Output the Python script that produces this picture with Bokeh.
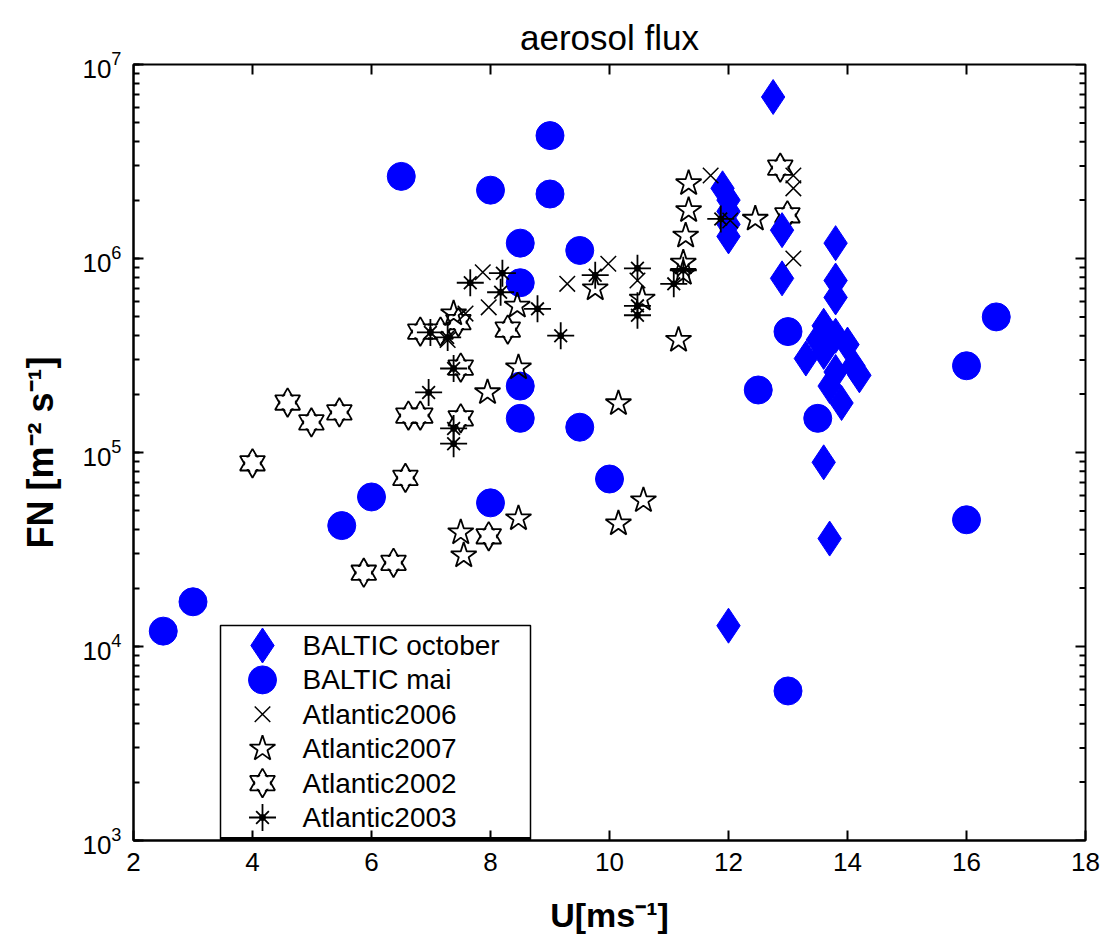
from bokeh.plotting import figure
from bokeh.models import Range1d, FixedTicker, LinearScale
from bokeh.embed import file_html
from bokeh.resources import INLINE
from bokeh.core.properties import value

# ---------------- data ----------------
baltic_oct_u = [12.75, 11.9, 12.0, 12.0, 12.0, 12.0, 12.9, 12.9, 13.8, 13.8, 13.8, 13.6, 13.5,
                13.3, 14.0, 14.1, 13.7, 13.9, 13.6, 13.7, 12.0, 13.6, 13.8, 13.8, 14.2]
baltic_oct_fn = [6.8e6, 2.3e6, 2.0e6, 1.75e6, 1.5e6, 1.3e6, 1.4e6, 7.9e5, 1.2e6, 7.7e5, 6.3e5, 4.5e5, 3.8e5,
                 3.05e5, 3.6e5, 2.8e5, 2.2e5, 1.8e5, 8.9e4, 3.6e4, 1.28e4, 3.3e5, 4.0e5, 2.6e5, 2.5e5]

baltic_mai_u = [2.5, 3.0, 6.5, 8.0, 9.0, 9.0, 8.5, 9.5, 8.5, 8.5, 8.5, 9.5, 10.0, 8.0, 6.0, 5.5,
                13.0, 12.5, 13.5, 16.5, 16.0, 16.0, 13.0]
baltic_mai_fn = [1.2e4, 1.7e4, 2.65e6, 2.25e6, 4.3e6, 2.15e6, 1.2e6, 1.1e6, 7.5e5, 2.2e5, 1.5e5, 1.35e5,
                 7.3e4, 5.5e4, 5.9e4, 4.2e4, 4.2e5, 2.1e5, 1.5e5, 5.0e5, 2.8e5, 4.5e4, 5.9e3]

atl2006_u = [7.87, 7.97, 7.58, 7.28, 9.29, 9.98, 10.47, 11.70, 13.09, 13.09, 13.09, 12.03]
atl2006_fn = [8.5e5, 5.6e5, 5.2e5, 3.8e5, 7.4e5, 9.4e5, 7.7e5, 2.68e6, 2.68e6, 2.3e6, 1.0e6, 1.57e6]

atl2007_u = [11.33, 11.33, 11.28, 12.45, 11.24, 11.24, 9.76, 10.55, 11.16, 10.15, 7.95, 8.47,
             8.47, 7.50, 7.55, 10.57, 10.15, 7.38, 8.45]
atl2007_fn = [2.44e6, 1.77e6, 1.31e6, 1.6e6, 9.5e5, 8.4e5, 7.0e5, 6.2e5, 3.8e5, 1.79e5, 2.04e5, 2.74e5,
              4.57e4, 3.87e4, 2.94e4, 5.66e4, 4.3e4, 5.2e5, 5.7e5]

atl2002_u = [4.0, 4.59, 4.99, 5.46, 6.62, 6.82, 6.57, 5.87, 6.37, 7.97, 7.50, 7.50, 6.82, 7.16,
             7.46, 8.29, 12.87, 12.99]
atl2002_fn = [8.8e4, 1.81e5, 1.43e5, 1.61e5, 1.55e5, 1.55e5, 7.4e4, 2.4e4, 2.7e4, 3.7e4, 2.74e5, 1.5e5,
              4.2e5, 4.2e5, 4.7e5, 4.3e5, 2.94e6, 1.67e6]

atl2003_u = [6.96, 6.99, 7.28, 7.38, 7.38, 7.38, 7.66, 8.20, 8.17, 8.79, 9.18, 9.76, 10.47, 10.47,
             10.47, 11.08, 11.87, 11.24]
atl2003_fn = [2.04e5, 4.16e5, 3.92e5, 2.71e5, 1.33e5, 1.11e5, 7.5e5, 8.4e5, 6.7e5, 5.5e5, 4.0e5, 8.2e5,
              8.9e5, 5.7e5, 5.1e5, 7.4e5, 1.6e6, 8.7e5]

x_ticks = [2, 4, 6, 8, 10, 12, 14, 16, 18]
y_major = [1e3, 1e4, 1e5, 1e6, 1e7]
y_minor = [m * d for d in (1e3, 1e4, 1e5, 1e6) for m in range(2, 10)]
legend_labels = ["BALTIC october", "BALTIC mai", "Atlantic2006", "Atlantic2007",
                 "Atlantic2002", "Atlantic2003"]
title_text = "aerosol flux"

# ---------------- figure ----------------
BLUE = "#0000ff"
FONT = "Liberation Sans"
FW, FH = 952, 776  # frame size in px

p = figure(width=1100, height=940, x_range=Range1d(2, 18), y_range=Range1d(1e3, 1e7),
           y_axis_type="log", output_backend="svg", toolbar_location=None,
           min_border_left=133, min_border_right=15, min_border_top=64, min_border_bottom=100,
           background_fill_color="white", border_fill_color="white")
p.grid.visible = False
p.outline_line_color = "black"
p.outline_line_width = 2

p.title.text = title_text
p.title.align = "center"
p.title.vertical_align = "top"
p.title.text_font = FONT
p.title.text_font_size = "35px"
p.title.text_font_style = "normal"
p.title.text_color = "black"
p.title.standoff = 12

def style_axis(ax):
    ax.axis_line_width = 2
    ax.axis_line_color = "black"
    ax.major_tick_in = 10
    ax.major_tick_out = 0
    ax.major_tick_line_width = 2
    ax.minor_tick_in = 6
    ax.minor_tick_out = 0
    ax.minor_tick_line_width = 2
    ax.major_label_text_font = FONT
    ax.major_label_text_color = "black"
    ax.major_label_text_font_size = "26px"
    ax.axis_label_text_color = "black"

xa = p.xaxis[0]
xa.ticker = FixedTicker(ticks=x_ticks)
style_axis(xa)
xa.minor_tick_line_color = None
xa.major_label_standoff = 12
xa.axis_label = "U[ms⁻¹]"
xa.axis_label_text_font = FONT
xa.axis_label_text_font_size = "34px"
xa.axis_label_text_font_style = "bold"
xa.axis_label_standoff = 22

ya = p.yaxis[0]
style_axis(ya)
ya.major_label_standoff = 12
ya.axis_label = "FN [m⁻² s⁻¹]"
ya.axis_label_text_font = FONT
ya.axis_label_text_font_size = "36px"
ya.axis_label_text_font_style = "bold"
ya.axis_label_standoff = 18

# pixel-like extra ranges (for box ticks on top/right and the legend)
p.extra_x_ranges = {"lx": Range1d(0, FW)}
p.extra_y_ranges = {"ly": Range1d(0, FH)}
p.extra_x_scales = {"lx": LinearScale()}
p.extra_y_scales = {"ly": LinearScale()}
L = dict(x_range_name="lx", y_range_name="ly")

# inward ticks on the top and right sides of the box
p.segment(x0=x_ticks, x1=x_ticks, y0=[FH] * len(x_ticks), y1=[FH - 10] * len(x_ticks),
          line_color="black", line_width=2, y_range_name="ly")
p.segment(x0=[FW] * len(y_major), x1=[FW - 10] * len(y_major), y0=y_major, y1=y_major,
          line_color="black", line_width=2, x_range_name="lx")
p.segment(x0=[FW] * len(y_minor), x1=[FW - 6] * len(y_minor), y0=y_minor, y1=y_minor,
          line_color="black", line_width=2, x_range_name="lx")

# ---------------- data markers ----------------
def hexagram(xs, ys, size, lw=1.8, **kw):
    for m in ("triangle", "inverted_triangle"):
        p.scatter(xs, ys, marker=m, size=size, fill_color=None, line_color="black",
                  line_width=lw, **kw)
    for m in ("triangle", "inverted_triangle"):
        p.scatter(xs, ys, marker=m, size=size * 0.8, fill_color="white", line_color=None, **kw)

def asterisk(xs, ys, **kw):
    p.scatter(xs, ys, marker="cross", size=27, line_color="black", line_width=1.8, **kw)
    p.scatter(xs, ys, marker="x", size=18, line_color="black", line_width=1.8, **kw)
    p.scatter(xs, ys, marker="circle", size=6, fill_color="black", line_color="black", **kw)

hexagram(atl2002_u, atl2002_fn, 25)
p.scatter(baltic_oct_u, baltic_oct_fn, marker="diamond", size=35, fill_color=BLUE, line_color=BLUE)
p.scatter(baltic_mai_u, baltic_mai_fn, marker="circle", size=28, fill_color=BLUE, line_color=BLUE)
p.scatter(atl2006_u, atl2006_fn, marker="x", size=22, line_color="black", line_width=1.5)
p.scatter(atl2007_u, atl2007_fn, marker="star", size=27, fill_color=None, line_color="black", line_width=1.8)
asterisk(atl2003_u, atl2003_fn)

# ---------------- legend ----------------
p.quad(left=[87], right=[397], bottom=[1], top=[215], fill_color="white",
       line_color="black", line_width=1.5, **L)
p.segment(x0=[87], x1=[397], y0=[2], y1=[2], line_color="black", line_width=3, **L)
rows = [195, 160.6, 126.2, 91.8, 57.4, 23]
gx, tx = 129, 169
p.scatter([gx], [rows[0]], marker="diamond", size=35, fill_color=BLUE, line_color=BLUE, **L)
p.scatter([gx], [rows[1]], marker="circle", size=28, fill_color=BLUE, line_color=BLUE, **L)
p.scatter([gx], [rows[2]], marker="x", size=22, line_color="black", line_width=1.5, **L)
p.scatter([gx], [rows[3]], marker="star", size=27, fill_color=None, line_color="black", line_width=1.8, **L)
hexagram([gx], [rows[4]], 25, **L)
asterisk([gx], [rows[5]], **L)
p.text(x=[tx] * 6, y=rows, text=legend_labels, text_font=value(FONT), text_font_size="28px",
       text_baseline="middle", text_align="left", text_color="black", **L)

open("out.html", "w").write(file_html(p, INLINE))
